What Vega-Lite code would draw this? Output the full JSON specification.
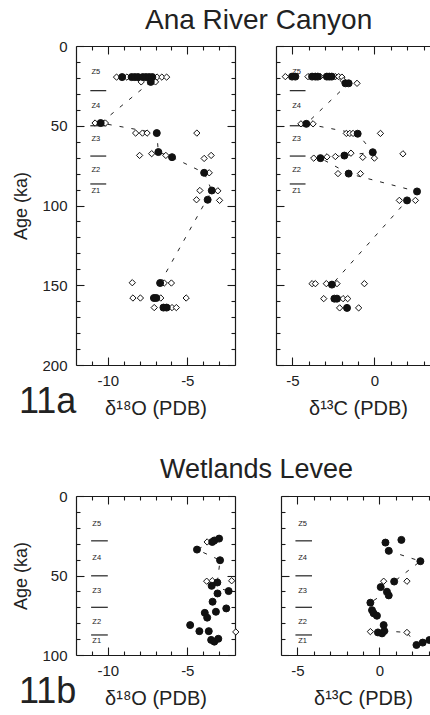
{
  "$schema": "https://vega.github.io/schema/vega-lite/v6.json",
  "background": "white",
  "padding": {"left": 12, "top": 7, "right": 0, "bottom": 0},
  "config": {
    "font": "Liberation Sans",
    "view": {"stroke": null},
    "axis": {"grid": false, "domainColor": "#1a1a1a", "tickColor": "#1a1a1a", "labelColor": "#222", "titleColor": "#222", "domainWidth": 1.2, "tickWidth": 1.1, "labelFont": "Liberation Sans", "titleFont": "Liberation Sans"},
    "title": {"color": "#222", "fontWeight": "normal", "font": "Liberation Sans"}
  },
  "datasets": {
    "pts": [
      {"panel":"A","d":-9.45,"age":19.5,"kind":"open"},{"panel":"A","d":-8.8,"age":19.5,"kind":"open"},{"panel":"A","d":-8.0,"age":19.5,"kind":"open"},{"panel":"A","d":-6.9,"age":19.5,"kind":"open"},{"panel":"A","d":-6.6,"age":19.5,"kind":"open"},{"panel":"A","d":-6.3,"age":19.5,"kind":"open"},{"panel":"A","d":-7.9,"age":22.5,"kind":"open"},{"panel":"A","d":-7.0,"age":22.5,"kind":"open"},{"panel":"A","d":-10.8,"age":48.3,"kind":"open"},{"panel":"A","d":-10.15,"age":48.3,"kind":"open"},{"panel":"A","d":-8.25,"age":54.6,"kind":"open"},{"panel":"A","d":-7.82,"age":54.6,"kind":"open"},{"panel":"A","d":-7.53,"age":54.6,"kind":"open"},{"panel":"A","d":-4.4,"age":54.6,"kind":"open"},{"panel":"A","d":-8.0,"age":68.6,"kind":"open"},{"panel":"A","d":-7.24,"age":67.5,"kind":"open"},{"panel":"A","d":-6.35,"age":68.6,"kind":"open"},{"panel":"A","d":-3.94,"age":70.5,"kind":"open"},{"panel":"A","d":-3.5,"age":68.6,"kind":"open"},{"panel":"A","d":-3.62,"age":79.5,"kind":"open"},{"panel":"A","d":-4.21,"age":90.6,"kind":"open"},{"panel":"A","d":-3.08,"age":90.8,"kind":"open"},{"panel":"A","d":-4.42,"age":96.4,"kind":"open"},{"panel":"A","d":-2.97,"age":96.8,"kind":"open"},{"panel":"A","d":-8.46,"age":148.4,"kind":"open"},{"panel":"A","d":-6.45,"age":148.6,"kind":"open"},{"panel":"A","d":-6.0,"age":148.6,"kind":"open"},{"panel":"A","d":-8.42,"age":158,"kind":"open"},{"panel":"A","d":-7.95,"age":158,"kind":"open"},{"panel":"A","d":-6.67,"age":158,"kind":"open"},{"panel":"A","d":-5.07,"age":158,"kind":"open"},{"panel":"A","d":-7.08,"age":164,"kind":"open"},{"panel":"A","d":-5.96,"age":164,"kind":"open"},{"panel":"A","d":-5.69,"age":164,"kind":"open"},
      {"panel":"A","d":-9.1,"age":19.5,"kind":"filled"},{"panel":"A","d":-8.5,"age":19.5,"kind":"filled"},{"panel":"A","d":-8.3,"age":19.5,"kind":"filled"},{"panel":"A","d":-8.1,"age":19.5,"kind":"filled"},{"panel":"A","d":-7.8,"age":19.5,"kind":"filled"},{"panel":"A","d":-7.6,"age":19.5,"kind":"filled"},{"panel":"A","d":-7.4,"age":19.5,"kind":"filled"},{"panel":"A","d":-7.2,"age":19.5,"kind":"filled"},{"panel":"A","d":-7.3,"age":22.5,"kind":"filled"},{"panel":"A","d":-10.45,"age":48.3,"kind":"filled"},{"panel":"A","d":-6.92,"age":54.6,"kind":"filled"},{"panel":"A","d":-6.82,"age":66.5,"kind":"filled"},{"panel":"A","d":-5.96,"age":69.7,"kind":"filled"},{"panel":"A","d":-3.94,"age":79.5,"kind":"filled"},{"panel":"A","d":-3.46,"age":90.6,"kind":"filled"},{"panel":"A","d":-3.72,"age":96.4,"kind":"filled"},{"panel":"A","d":-6.71,"age":148.6,"kind":"filled"},{"panel":"A","d":-7.1,"age":158,"kind":"filled"},{"panel":"A","d":-6.95,"age":158,"kind":"filled"},{"panel":"A","d":-6.5,"age":164,"kind":"filled"},{"panel":"A","d":-6.3,"age":164,"kind":"filled"},

      {"panel":"B","d":-5.43,"age":19.2,"kind":"open"},{"panel":"B","d":-4.05,"age":19.2,"kind":"open"},{"panel":"B","d":-3.3,"age":19.2,"kind":"open"},{"panel":"B","d":-2.38,"age":19.2,"kind":"open"},{"panel":"B","d":-2.18,"age":19.2,"kind":"open"},{"panel":"B","d":-1.98,"age":19.5,"kind":"open"},{"panel":"B","d":-1.9,"age":21.7,"kind":"open"},{"panel":"B","d":-1.06,"age":23.4,"kind":"open"},{"panel":"B","d":-4.48,"age":48.8,"kind":"open"},{"panel":"B","d":-3.74,"age":48.8,"kind":"open"},{"panel":"B","d":-1.71,"age":54.8,"kind":"open"},{"panel":"B","d":-1.5,"age":54.8,"kind":"open"},{"panel":"B","d":-1.3,"age":54.8,"kind":"open"},{"panel":"B","d":0.37,"age":54.8,"kind":"open"},{"panel":"B","d":-3.7,"age":70.3,"kind":"open"},{"panel":"B","d":-2.89,"age":69.5,"kind":"open"},{"panel":"B","d":-2.38,"age":69.3,"kind":"open"},{"panel":"B","d":-1.43,"age":67.2,"kind":"open"},{"panel":"B","d":-0.71,"age":69.8,"kind":"open"},{"panel":"B","d":0.0,"age":70.3,"kind":"open"},{"panel":"B","d":1.74,"age":67.6,"kind":"open"},{"panel":"B","d":-2.22,"age":80,"kind":"open"},{"panel":"B","d":-0.85,"age":80,"kind":"open"},{"panel":"B","d":1.52,"age":96.8,"kind":"open"},{"panel":"B","d":2.5,"age":96.8,"kind":"open"},{"panel":"B","d":-3.8,"age":149,"kind":"open"},{"panel":"B","d":-3.6,"age":149,"kind":"open"},{"panel":"B","d":-2.93,"age":149,"kind":"open"},{"panel":"B","d":-2.28,"age":149,"kind":"open"},{"panel":"B","d":-0.61,"age":149,"kind":"open"},{"panel":"B","d":-3.09,"age":158.4,"kind":"open"},{"panel":"B","d":-1.91,"age":158.4,"kind":"open"},{"panel":"B","d":-1.63,"age":158.4,"kind":"open"},{"panel":"B","d":-2.12,"age":164.2,"kind":"open"},{"panel":"B","d":-0.96,"age":164.2,"kind":"open"},
      {"panel":"B","d":-5.02,"age":19.2,"kind":"filled"},{"panel":"B","d":-4.82,"age":19.2,"kind":"filled"},{"panel":"B","d":-3.8,"age":19.2,"kind":"filled"},{"panel":"B","d":-3.6,"age":19.2,"kind":"filled"},{"panel":"B","d":-3.45,"age":19.2,"kind":"filled"},{"panel":"B","d":-2.9,"age":19.2,"kind":"filled"},{"panel":"B","d":-2.75,"age":19.2,"kind":"filled"},{"panel":"B","d":-2.6,"age":19.2,"kind":"filled"},{"panel":"B","d":-1.77,"age":23.4,"kind":"filled"},{"panel":"B","d":-1.57,"age":23.4,"kind":"filled"},{"panel":"B","d":-4.15,"age":48.8,"kind":"filled"},{"panel":"B","d":-1.02,"age":55,"kind":"filled"},{"panel":"B","d":-3.29,"age":70.3,"kind":"filled"},{"panel":"B","d":-1.83,"age":68.7,"kind":"filled"},{"panel":"B","d":-0.1,"age":66.6,"kind":"filled"},{"panel":"B","d":-1.57,"age":80,"kind":"filled"},{"panel":"B","d":2.6,"age":91.2,"kind":"filled"},{"panel":"B","d":1.99,"age":96.8,"kind":"filled"},{"panel":"B","d":-2.59,"age":149.6,"kind":"filled"},{"panel":"B","d":-2.44,"age":158.4,"kind":"filled"},{"panel":"B","d":-2.28,"age":158.4,"kind":"filled"},{"panel":"B","d":-1.67,"age":164.2,"kind":"filled"},

      {"panel":"C","d":-3.75,"age":28.9,"kind":"open"},{"panel":"C","d":-3.78,"age":53.6,"kind":"open"},{"panel":"C","d":-3.43,"age":53.3,"kind":"open"},{"panel":"C","d":-2.21,"age":53.3,"kind":"open"},{"panel":"C","d":-1.95,"age":85.5,"kind":"open"},
      {"panel":"C","d":-3.0,"age":26.8,"kind":"filled"},{"panel":"C","d":-3.3,"age":28.0,"kind":"filled"},{"panel":"C","d":-3.43,"age":28.9,"kind":"filled"},{"panel":"C","d":-4.39,"age":33.7,"kind":"filled"},{"panel":"C","d":-2.94,"age":40.4,"kind":"filled"},{"panel":"C","d":-3.11,"age":54.4,"kind":"filled"},{"panel":"C","d":-3.47,"age":56.5,"kind":"filled"},{"panel":"C","d":-3.1,"age":61.3,"kind":"filled"},{"panel":"C","d":-2.4,"age":59.8,"kind":"filled"},{"panel":"C","d":-3.41,"age":66.5,"kind":"filled"},{"panel":"C","d":-3.2,"age":72.8,"kind":"filled"},{"panel":"C","d":-2.55,"age":70.7,"kind":"filled"},{"panel":"C","d":-3.9,"age":73.5,"kind":"filled"},{"panel":"C","d":-3.75,"age":76.5,"kind":"filled"},{"panel":"C","d":-4.82,"age":81.2,"kind":"filled"},{"panel":"C","d":-4.24,"age":85.0,"kind":"filled"},{"panel":"C","d":-3.65,"age":85.0,"kind":"filled"},{"panel":"C","d":-3.5,"age":90.5,"kind":"filled"},{"panel":"C","d":-3.3,"age":91.6,"kind":"filled"},{"panel":"C","d":-3.05,"age":89.8,"kind":"filled"},

      {"panel":"D","d":0.26,"age":53.6,"kind":"open"},{"panel":"D","d":1.68,"age":53.6,"kind":"open"},{"panel":"D","d":-0.55,"age":85.3,"kind":"open"},{"panel":"D","d":1.68,"age":85.8,"kind":"open"},
      {"panel":"D","d":0.37,"age":29.3,"kind":"filled"},{"panel":"D","d":0.57,"age":34.5,"kind":"filled"},{"panel":"D","d":1.34,"age":27.6,"kind":"filled"},{"panel":"D","d":2.5,"age":41.0,"kind":"filled"},{"panel":"D","d":0.9,"age":53.8,"kind":"filled"},{"panel":"D","d":0.08,"age":57.3,"kind":"filled"},{"panel":"D","d":0.46,"age":60.2,"kind":"filled"},{"panel":"D","d":0.57,"age":62.5,"kind":"filled"},{"panel":"D","d":-0.55,"age":67.1,"kind":"filled"},{"panel":"D","d":-0.45,"age":71.8,"kind":"filled"},{"panel":"D","d":-0.35,"age":73.8,"kind":"filled"},{"panel":"D","d":-0.15,"age":75.3,"kind":"filled"},{"panel":"D","d":0.26,"age":81.2,"kind":"filled"},{"panel":"D","d":-0.09,"age":85.8,"kind":"filled"},{"panel":"D","d":0.16,"age":86.4,"kind":"filled"},{"panel":"D","d":0.3,"age":84.9,"kind":"filled"},{"panel":"D","d":2.26,"age":93.7,"kind":"filled"},{"panel":"D","d":2.64,"age":92.2,"kind":"filled"},{"panel":"D","d":3.05,"age":90.6,"kind":"filled"},{"panel":"D","d":3.5,"age":89.8,"kind":"filled"}
    ],
    "lines": [
      {"panel":"A","seg":1,"ord":1,"d":-7.3,"age":22.5},{"panel":"A","seg":1,"ord":2,"d":-10.45,"age":48.3},{"panel":"A","seg":1,"ord":3,"d":-6.92,"age":54.6},{"panel":"A","seg":1,"ord":4,"d":-6.82,"age":66.5},{"panel":"A","seg":1,"ord":5,"d":-5.96,"age":69.7},{"panel":"A","seg":1,"ord":6,"d":-3.94,"age":79.5},{"panel":"A","seg":1,"ord":7,"d":-3.46,"age":90.6},{"panel":"A","seg":1,"ord":8,"d":-6.71,"age":148.6},
      {"panel":"B","seg":1,"ord":1,"d":-1.57,"age":23.4},{"panel":"B","seg":1,"ord":2,"d":-4.15,"age":48.8},{"panel":"B","seg":1,"ord":3,"d":-1.02,"age":55},{"panel":"B","seg":1,"ord":4,"d":-0.1,"age":66.6},{"panel":"B","seg":1,"ord":5,"d":-1.83,"age":68.7},{"panel":"B","seg":1,"ord":6,"d":-3.29,"age":70.3},{"panel":"B","seg":1,"ord":7,"d":-1.57,"age":80},{"panel":"B","seg":1,"ord":8,"d":2.6,"age":91.2},{"panel":"B","seg":1,"ord":9,"d":1.99,"age":96.8},{"panel":"B","seg":1,"ord":10,"d":-2.59,"age":149.6},
      {"panel":"C","seg":1,"ord":1,"d":-3.43,"age":28.9},{"panel":"C","seg":1,"ord":2,"d":-4.39,"age":33.7},{"panel":"C","seg":1,"ord":3,"d":-2.94,"age":40.4},{"panel":"C","seg":1,"ord":4,"d":-3.11,"age":54.4},{"panel":"C","seg":2,"ord":1,"d":-3.47,"age":56.5},{"panel":"C","seg":2,"ord":2,"d":-2.4,"age":59.8},
      {"panel":"D","seg":1,"ord":1,"d":0.57,"age":34.5},{"panel":"D","seg":1,"ord":2,"d":2.5,"age":41},{"panel":"D","seg":1,"ord":3,"d":0.9,"age":53.8},{"panel":"D","seg":2,"ord":1,"d":0.46,"age":60.2},{"panel":"D","seg":2,"ord":2,"d":-0.55,"age":67.1},{"panel":"D","seg":3,"ord":1,"d":0.3,"age":84.9},{"panel":"D","seg":3,"ord":2,"d":1.68,"age":85.8},{"panel":"D","seg":3,"ord":3,"d":2.26,"age":93.7}
    ],
    "zones": [
      {"row":"top","age":28},{"row":"top","age":50},{"row":"top","age":69},{"row":"top","age":86.5},
      {"row":"bottom","age":28.2},{"row":"bottom","age":50.2},{"row":"bottom","age":70},{"row":"bottom","age":87.4}
    ],
    "zlab": [
      {"row":"top","zone":"Z5","age":16.5},{"row":"top","zone":"Z4","age":37.8},{"row":"top","zone":"Z3","age":58.6},{"row":"top","zone":"Z2","age":78},{"row":"top","zone":"Z1","age":91},
      {"row":"bottom","zone":"Z5","age":17.5},{"row":"bottom","zone":"Z4","age":39},{"row":"bottom","zone":"Z3","age":59.6},{"row":"bottom","zone":"Z2","age":79},{"row":"bottom","zone":"Z1","age":91.5}
    ]
  },
  "vconcat": [
    {
      "title": {"text": "Ana River Canyon", "anchor": "start", "frame": "bounds", "dx": 132, "fontSize": 28, "offset": 4},
      "spacing": 39,
      "hconcat": [
        {
          "width": 159, "height": 319,
          "title": {"text": "11a", "orient": "bottom", "anchor": "start", "frame": "bounds", "dx": 6, "fontSize": 36, "baseline": "alphabetic", "offset": -5},
          "resolve": {"axis": {"x": "independent", "y": "independent"}},
          "layer": [
            {
              "data": {"name": "zones"}, "transform": [{"filter": "datum.row === 'top'"}],
              "mark": {"type": "rule", "color": "#222", "strokeWidth": 1.2},
              "encoding": {
                "y": {"field": "age", "type": "quantitative", "scale": {"domain": [0, 200], "reverse": true, "nice": false, "zero": false},
                      "axis": {"orient": "left", "values": [10,20,30,40,60,70,80,90,110,120,130,140,160,170,180,190], "tickSize": -4, "labels": false, "title": null, "domain": false}},
                "x": {"datum": -11.1, "type": "quantitative", "scale": {"domain": [-12, -2], "nice": false, "zero": false},
                      "axis": {"orient": "bottom", "values": [-11,-9,-8,-7,-6,-4,-3], "tickSize": -4, "labels": false, "title": null, "domain": false}},
                "x2": {"datum": -10.1}
              }
            },
            {
              "data": {"name": "zlab"}, "transform": [{"filter": "datum.row === 'top'"}],
              "mark": {"type": "text", "fontSize": 7.5, "color": "#222", "font": "Liberation Sans"},
              "encoding": {
                "y": {"field": "age", "type": "quantitative", "scale": {"domain": [0, 200], "reverse": true, "nice": false, "zero": false},
                      "axis": {"orient": "right", "values": [10,20,30,40,60,70,80,90,110,120,130,140,160,170,180,190], "tickSize": -4, "labels": false, "title": null, "domain": false}},
                "x": {"datum": -10.75, "type": "quantitative", "scale": {"domain": [-12, -2], "nice": false, "zero": false},
                      "axis": {"orient": "top", "values": [-11,-9,-8,-7,-6,-4,-3], "tickSize": -4, "labels": false, "title": null, "domain": false}},
                "text": {"field": "zone"}
              }
            },
            {
              "data": {"name": "lines"}, "transform": [{"filter": "datum.panel === 'A'"}],
              "mark": {"type": "line", "strokeDash": [4, 8], "strokeWidth": 1, "color": "#222"},
              "encoding": {
                "y": {"field": "age", "type": "quantitative", "scale": {"domain": [0, 200], "reverse": true, "nice": false, "zero": false},
                      "axis": {"orient": "right", "values": [0,50,100,150,200], "tickSize": -8, "labels": false, "title": null, "domain": true}},
                "x": {"field": "d", "type": "quantitative", "scale": {"domain": [-12, -2], "nice": false, "zero": false},
                      "axis": {"orient": "top", "values": [-10,-5], "tickSize": -8, "labels": false, "title": null, "domain": true}},
                "detail": {"field": "seg"},
                "order": {"field": "ord"}
              }
            },
            {
              "data": {"name": "pts"}, "transform": [{"filter": "datum.panel === 'A'"}],
              "mark": {"type": "point", "filled": true, "opacity": 1, "stroke": "#111", "strokeWidth": 1},
              "encoding": {
                "y": {"field": "age", "type": "quantitative", "scale": {"domain": [0, 200], "reverse": true, "nice": false, "zero": false},
                      "axis": {"orient": "left", "values": [0,50,100,150,200], "tickSize": -8, "labelPadding": 17, "labelFontSize": 15, "title": "Age (ka)", "titleFontSize": 18, "titleFontWeight": "normal", "titlePadding": 11, "domain": true}},
                "x": {"field": "d", "type": "quantitative", "scale": {"domain": [-12, -2], "nice": false, "zero": false},
                      "axis": {"orient": "bottom", "values": [-10,-5], "tickSize": -8, "labelPadding": 16, "labelFontSize": 15, "labelExpr": "'' + datum.value", "title": "δ¹⁸O (PDB)", "titleFontSize": 20, "titleFontWeight": "normal", "titlePadding": 10, "domain": true}},
                "shape": {"field": "kind", "type": "nominal", "scale": {"domain": ["open", "filled"], "range": ["diamond", "circle"]}, "legend": null},
                "fill": {"field": "kind", "type": "nominal", "scale": {"domain": ["open", "filled"], "range": ["white", "#111"]}, "legend": null},
                "size": {"field": "kind", "type": "nominal", "scale": {"domain": ["open", "filled"], "range": [40, 49]}, "legend": null}
              }
            }
          ]
        },
        {
          "width": 164, "height": 319,
          "resolve": {"axis": {"x": "independent", "y": "independent"}},
          "layer": [
            {
              "data": {"name": "zones"}, "transform": [{"filter": "datum.row === 'top'"}],
              "mark": {"type": "rule", "color": "#222", "strokeWidth": 1.2},
              "encoding": {
                "y": {"field": "age", "type": "quantitative", "scale": {"domain": [0, 200], "reverse": true, "nice": false, "zero": false},
                      "axis": {"orient": "left", "values": [10,20,30,40,60,70,80,90,110,120,130,140,160,170,180,190], "tickSize": -4, "labels": false, "title": null, "domain": false}},
                "x": {"datum": -5.16, "type": "quantitative", "scale": {"domain": [-6, 4], "nice": false, "zero": false},
                      "axis": {"orient": "bottom", "values": [-4,-3,-2,-1,1,2,3], "tickSize": -4, "labels": false, "title": null, "domain": false}},
                "x2": {"datum": -4.2}
              }
            },
            {
              "data": {"name": "zlab"}, "transform": [{"filter": "datum.row === 'top'"}],
              "mark": {"type": "text", "fontSize": 7.5, "color": "#222", "font": "Liberation Sans"},
              "encoding": {
                "y": {"field": "age", "type": "quantitative", "scale": {"domain": [0, 200], "reverse": true, "nice": false, "zero": false},
                      "axis": {"orient": "right", "values": [10,20,30,40,60,70,80,90,110,120,130,140,160,170,180,190], "tickSize": -4, "labels": false, "title": null, "domain": false}},
                "x": {"datum": -4.74, "type": "quantitative", "scale": {"domain": [-6, 4], "nice": false, "zero": false},
                      "axis": {"orient": "top", "values": [-4,-3,-2,-1,1,2,3], "tickSize": -4, "labels": false, "title": null, "domain": false}},
                "text": {"field": "zone"}
              }
            },
            {
              "data": {"name": "lines"}, "transform": [{"filter": "datum.panel === 'B'"}],
              "mark": {"type": "line", "strokeDash": [4, 8], "strokeWidth": 1, "color": "#222"},
              "encoding": {
                "y": {"field": "age", "type": "quantitative", "scale": {"domain": [0, 200], "reverse": true, "nice": false, "zero": false},
                      "axis": {"orient": "right", "values": [0,50,100,150,200], "tickSize": -8, "labels": false, "title": null, "domain": false}},
                "x": {"field": "d", "type": "quantitative", "scale": {"domain": [-6, 4], "nice": false, "zero": false},
                      "axis": {"orient": "top", "values": [-5,0], "tickSize": -8, "labels": false, "title": null, "domain": true}},
                "detail": {"field": "seg"},
                "order": {"field": "ord"}
              }
            },
            {
              "data": {"name": "pts"}, "transform": [{"filter": "datum.panel === 'B'"}],
              "mark": {"type": "point", "filled": true, "opacity": 1, "stroke": "#111", "strokeWidth": 1},
              "encoding": {
                "y": {"field": "age", "type": "quantitative", "scale": {"domain": [0, 200], "reverse": true, "nice": false, "zero": false},
                      "axis": {"orient": "left", "values": [0,50,100,150,200], "tickSize": -8, "labels": false, "title": null, "domain": true}},
                "x": {"field": "d", "type": "quantitative", "scale": {"domain": [-6, 4], "nice": false, "zero": false},
                      "axis": {"orient": "bottom", "values": [-5,0], "tickSize": -8, "labelPadding": 16, "labelFontSize": 15, "labelExpr": "'' + datum.value", "title": "δ¹³C (PDB)", "titleFontSize": 20, "titleFontWeight": "normal", "titlePadding": 10, "domain": true}},
                "shape": {"field": "kind", "type": "nominal", "scale": {"domain": ["open", "filled"], "range": ["diamond", "circle"]}, "legend": null},
                "fill": {"field": "kind", "type": "nominal", "scale": {"domain": ["open", "filled"], "range": ["white", "#111"]}, "legend": null},
                "size": {"field": "kind", "type": "nominal", "scale": {"domain": ["open", "filled"], "range": [40, 49]}, "legend": null}
              }
            }
          ]
        }
      ]
    },
    {
      "title": {"text": "Wetlands Levee", "anchor": "start", "frame": "bounds", "dx": 147, "fontSize": 27, "offset": 5},
      "spacing": 39,
      "hconcat": [
        {
          "width": 159, "height": 159,
          "title": {"text": "11b", "orient": "bottom", "anchor": "start", "frame": "bounds", "dx": 6, "fontSize": 36, "baseline": "alphabetic", "offset": -5},
          "resolve": {"axis": {"x": "independent", "y": "independent"}},
          "layer": [
            {
              "data": {"name": "zones"}, "transform": [{"filter": "datum.row === 'bottom'"}],
              "mark": {"type": "rule", "color": "#222", "strokeWidth": 1.2},
              "encoding": {
                "y": {"field": "age", "type": "quantitative", "scale": {"domain": [0, 100], "reverse": true, "nice": false, "zero": false},
                      "axis": {"orient": "left", "values": [10,20,30,40,60,70,80,90], "tickSize": -4, "labels": false, "title": null, "domain": false}},
                "x": {"datum": -11.05, "type": "quantitative", "scale": {"domain": [-12, -2], "nice": false, "zero": false},
                      "axis": {"orient": "bottom", "values": [-11,-9,-8,-7,-6,-4,-3], "tickSize": -4, "labels": false, "title": null, "domain": false}},
                "x2": {"datum": -10.0}
              }
            },
            {
              "data": {"name": "zlab"}, "transform": [{"filter": "datum.row === 'bottom'"}],
              "mark": {"type": "text", "fontSize": 7.5, "color": "#222", "font": "Liberation Sans"},
              "encoding": {
                "y": {"field": "age", "type": "quantitative", "scale": {"domain": [0, 100], "reverse": true, "nice": false, "zero": false},
                      "axis": {"orient": "right", "values": [10,20,30,40,60,70,80,90], "tickSize": -4, "labels": false, "title": null, "domain": false}},
                "x": {"datum": -10.7, "type": "quantitative", "scale": {"domain": [-12, -2], "nice": false, "zero": false},
                      "axis": {"orient": "top", "values": [-11,-9,-8,-7,-6,-4,-3], "tickSize": -4, "labels": false, "title": null, "domain": false}},
                "text": {"field": "zone"}
              }
            },
            {
              "data": {"name": "lines"}, "transform": [{"filter": "datum.panel === 'C'"}],
              "mark": {"type": "line", "strokeDash": [4, 8], "strokeWidth": 1, "color": "#222"},
              "encoding": {
                "y": {"field": "age", "type": "quantitative", "scale": {"domain": [0, 100], "reverse": true, "nice": false, "zero": false},
                      "axis": {"orient": "right", "values": [0,50,100], "tickSize": -8, "labels": false, "title": null, "domain": true}},
                "x": {"field": "d", "type": "quantitative", "scale": {"domain": [-12, -2], "nice": false, "zero": false},
                      "axis": {"orient": "top", "values": [-10,-5], "tickSize": -8, "labels": false, "title": null, "domain": true}},
                "detail": {"field": "seg"},
                "order": {"field": "ord"}
              }
            },
            {
              "data": {"name": "pts"}, "transform": [{"filter": "datum.panel === 'C'"}],
              "mark": {"type": "point", "filled": true, "opacity": 1, "stroke": "#111", "strokeWidth": 1},
              "encoding": {
                "y": {"field": "age", "type": "quantitative", "scale": {"domain": [0, 100], "reverse": true, "nice": false, "zero": false},
                      "axis": {"orient": "left", "values": [0,50,100], "tickSize": -8, "labelPadding": 17, "labelFontSize": 15, "title": "Age (ka)", "titleFontSize": 18, "titleFontWeight": "normal", "titlePadding": 11, "domain": true}},
                "x": {"field": "d", "type": "quantitative", "scale": {"domain": [-12, -2], "nice": false, "zero": false},
                      "axis": {"orient": "bottom", "values": [-10,-5], "tickSize": -8, "labelPadding": 16, "labelFontSize": 15, "labelExpr": "'' + datum.value", "title": "δ¹⁸O (PDB)", "titleFontSize": 20, "titleFontWeight": "normal", "titlePadding": 10, "domain": true}},
                "shape": {"field": "kind", "type": "nominal", "scale": {"domain": ["open", "filled"], "range": ["diamond", "circle"]}, "legend": null},
                "fill": {"field": "kind", "type": "nominal", "scale": {"domain": ["open", "filled"], "range": ["white", "#111"]}, "legend": null},
                "size": {"field": "kind", "type": "nominal", "scale": {"domain": ["open", "filled"], "range": [42, 72]}, "legend": null}
              }
            }
          ]
        },
        {
          "width": 164, "height": 159,
          "resolve": {"axis": {"x": "independent", "y": "independent"}},
          "layer": [
            {
              "data": {"name": "zones"}, "transform": [{"filter": "datum.row === 'bottom'"}],
              "mark": {"type": "rule", "color": "#222", "strokeWidth": 1.2},
              "encoding": {
                "y": {"field": "age", "type": "quantitative", "scale": {"domain": [0, 100], "reverse": true, "nice": false, "zero": false},
                      "axis": {"orient": "left", "values": [10,20,30,40,60,70,80,90], "tickSize": -4, "labels": false, "title": null, "domain": false}},
                "x": {"datum": -5.12, "type": "quantitative", "scale": {"domain": [-6, 4], "nice": false, "zero": false},
                      "axis": {"orient": "bottom", "values": [-4,-3,-2,-1,1,2,3], "tickSize": -4, "labels": false, "title": null, "domain": false}},
                "x2": {"datum": -4.11}
              }
            },
            {
              "data": {"name": "zlab"}, "transform": [{"filter": "datum.row === 'bottom'"}],
              "mark": {"type": "text", "fontSize": 7.5, "color": "#222", "font": "Liberation Sans"},
              "encoding": {
                "y": {"field": "age", "type": "quantitative", "scale": {"domain": [0, 100], "reverse": true, "nice": false, "zero": false},
                      "axis": {"orient": "right", "values": [10,20,30,40,60,70,80,90], "tickSize": -4, "labels": false, "title": null, "domain": false}},
                "x": {"datum": -4.68, "type": "quantitative", "scale": {"domain": [-6, 4], "nice": false, "zero": false},
                      "axis": {"orient": "top", "values": [-4,-3,-2,-1,1,2,3], "tickSize": -4, "labels": false, "title": null, "domain": false}},
                "text": {"field": "zone"}
              }
            },
            {
              "data": {"name": "lines"}, "transform": [{"filter": "datum.panel === 'D'"}],
              "mark": {"type": "line", "strokeDash": [4, 8], "strokeWidth": 1, "color": "#222"},
              "encoding": {
                "y": {"field": "age", "type": "quantitative", "scale": {"domain": [0, 100], "reverse": true, "nice": false, "zero": false},
                      "axis": {"orient": "right", "values": [0,50,100], "tickSize": -8, "labels": false, "title": null, "domain": false}},
                "x": {"field": "d", "type": "quantitative", "scale": {"domain": [-6, 4], "nice": false, "zero": false},
                      "axis": {"orient": "top", "values": [-5,0], "tickSize": -8, "labels": false, "title": null, "domain": true}},
                "detail": {"field": "seg"},
                "order": {"field": "ord"}
              }
            },
            {
              "data": {"name": "pts"}, "transform": [{"filter": "datum.panel === 'D'"}],
              "mark": {"type": "point", "filled": true, "opacity": 1, "stroke": "#111", "strokeWidth": 1},
              "encoding": {
                "y": {"field": "age", "type": "quantitative", "scale": {"domain": [0, 100], "reverse": true, "nice": false, "zero": false},
                      "axis": {"orient": "left", "values": [0,50,100], "tickSize": -8, "labels": false, "title": null, "domain": true}},
                "x": {"field": "d", "type": "quantitative", "scale": {"domain": [-6, 4], "nice": false, "zero": false},
                      "axis": {"orient": "bottom", "values": [-5,0], "tickSize": -8, "labelPadding": 16, "labelFontSize": 15, "labelExpr": "'' + datum.value", "title": "δ¹³C (PDB)", "titleFontSize": 20, "titleFontWeight": "normal", "titlePadding": 10, "domain": true}},
                "shape": {"field": "kind", "type": "nominal", "scale": {"domain": ["open", "filled"], "range": ["diamond", "circle"]}, "legend": null},
                "fill": {"field": "kind", "type": "nominal", "scale": {"domain": ["open", "filled"], "range": ["white", "#111"]}, "legend": null},
                "size": {"field": "kind", "type": "nominal", "scale": {"domain": ["open", "filled"], "range": [42, 72]}, "legend": null}
              }
            }
          ]
        }
      ]
    }
  ],
  "spacing": 36
}
